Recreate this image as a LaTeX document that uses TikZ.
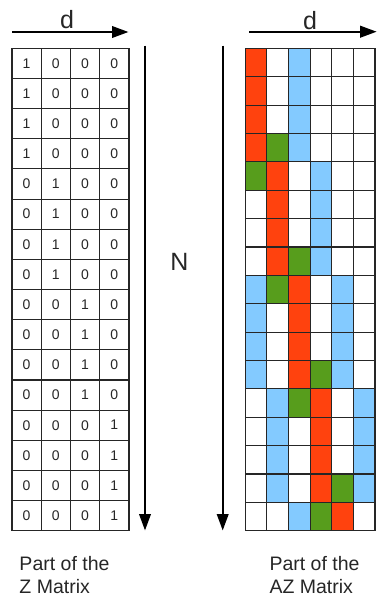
\documentclass[tikz,border=0pt]{standalone}
\usepackage{fontspec}
\setmainfont{Liberation Sans}
\usetikzlibrary{arrows.meta}
\definecolor{azR}{RGB}{255,66,14}
\definecolor{azG}{RGB}{87,157,28}
\definecolor{azB}{RGB}{131,202,255}
\definecolor{azW}{RGB}{255,255,255}

\begin{document}
\begin{tikzpicture}[
  x=1pt, y=-1pt,
  zcell/.style={draw=black!85, line width=1.1pt, minimum width=29.25pt,
    minimum height=30.15pt, inner sep=0pt, text=black!85,
    font=\fontsize{14}{16}\selectfont},
  azcell/.style={draw=black!85, line width=1.1pt, minimum width=21.62pt,
    minimum height=28.38pt, inner sep=0pt},
  axis/.style={line width=2.2pt, -{Triangle[length=16.5pt, width=11.5pt]}},
  big/.style={inner sep=0pt, text=black!85, font=\fontsize{25}{28}\selectfont},
  lbl/.style={inner sep=0pt, align=left, text=black!85,
    font=\fontsize{19.5}{23.3}\selectfont}
]
  \useasboundingbox (0,0) rectangle (377,598);

  \foreach \r in {1,...,16}
    \foreach \c in {1,...,4} {
      \pgfmathtruncatemacro\onecol{ceil(\r/4)}
      \node[zcell] (z-\r-\c) at ({12+(\c-0.5)*29.25}, {48.3+(\r-0.5)*30.15})
        {\ifnum\c=\onecol\relax 1\else 0\fi};
    }

  \foreach \r/\ka/\kb/\kc/\kd/\ke/\kf in {
      1/R/W/B/W/W/W, 2/R/W/B/W/W/W, 3/R/W/B/W/W/W, 4/R/G/B/W/W/W,
      5/G/R/W/B/W/W, 6/W/R/W/B/W/W, 7/W/R/W/B/W/W, 8/W/R/G/B/W/W,
      9/B/G/R/W/B/W, 10/B/W/R/W/B/W, 11/B/W/R/W/B/W, 12/B/W/R/G/B/W,
      13/W/B/G/R/W/B, 14/W/B/W/R/W/B, 15/W/B/W/R/W/B, 16/W/B/W/R/G/B,
      17/W/W/B/G/R/W}
    \foreach \c/\k in {1/\ka, 2/\kb, 3/\kc, 4/\kd, 5/\ke, 6/\kf}
      \node[azcell, fill=az\k] (az-\r-\c)
        at ({245.3+(\c-0.5)*21.62}, {48.3+(\r-0.5)*28.38}) {};

  \coordinate (zd-s) at (12,32);
  \coordinate (zd-e) at (128.5,32);
  \coordinate (azd-s) at (249.3,31.7);
  \coordinate (azd-e) at (376.7,31.7);
  \coordinate (zn-s) at (145,45.7);
  \coordinate (zn-e) at (145,530.5);
  \coordinate (azn-s) at (222.7,45.7);
  \coordinate (azn-e) at (222.7,530.5);

  \draw[axis] (zd-s) -- (zd-e);
  \draw[axis] (azd-s) -- (azd-e);
  \draw[axis] (zn-s) -- (zn-e);
  \draw[axis] (azn-s) -- (azn-e);

  \node[big] (zd) at (67,20) {d};
  \node[big] (azd) at (310,21) {d};
  \node[big] (n) at (179.5,261.7) {N};

  \node[lbl, anchor=base west] (zlbl) at (19.3,593.3) {Part of the\\Z Matrix};
  \node[lbl, anchor=base west] (azlbl) at (269.3,593.3) {Part of the\\AZ Matrix};

\end{tikzpicture}
\end{document}
